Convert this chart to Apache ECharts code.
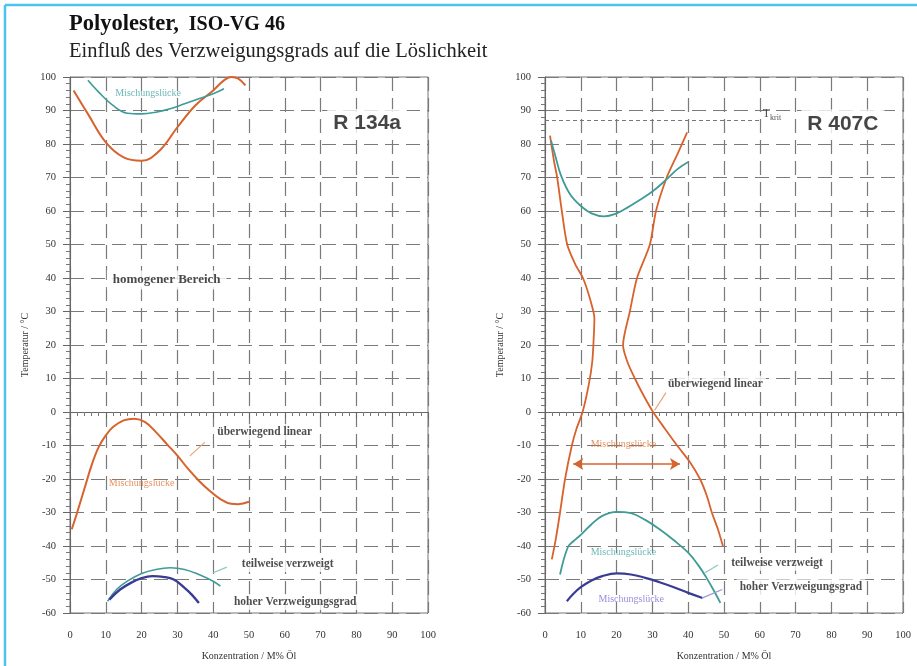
<!DOCTYPE html>
<html><head><meta charset="utf-8">
<script src="https://cdn.jsdelivr.net/npm/echarts@6/dist/echarts.min.js"></script>
<style>html,body{margin:0;padding:0;background:#fff}#c{width:917px;height:666px}</style>
</head><body><div id="c"></div>
<script>
// ---------- data (concentration % oil, temperature °C) ----------
// R 134a
const r134aLinUpper = [[1,96],[5,89],[10,80.5],[15,76],[20,75],[25,78],[30,85],[35,91.5],[40,96],[43,99],[45,100],[47,99.5],[49,97.5]];
const r134aTeilUpper = [[5,99],[8,95.5],[12,91.5],[16,89.2],[20,89],[24,89.5],[28,90.5],[32,92],[36,93.5],[40,95],[43,96.5]];
const r134aLinLower = [[0.5,-35],[2,-30],[4,-23],[6,-16],[8,-10.5],[10,-7],[12,-4.5],[15,-2.5],[18,-2],[21,-3],[24,-6],[27,-9.5],[30,-13],[33,-17],[36,-20.5],[39,-23.5],[42,-26],[45,-27.4],[47,-27.5],[50,-26.8]];
const r134aTeilLower = [[10.5,-56.5],[13,-53],[16,-50.5],[20,-48.2],[24,-47],[28,-46.5],[32,-47],[36,-48.5],[40,-50.5],[42,-52]];
const r134aHochLower = [[11,-56],[14,-53],[17,-51],[20,-49.6],[23,-49],[26,-49.2],[29,-50],[32,-52.5],[34,-54.5],[36,-57]];
// R 407C
const r407cLinLeft = [[1.4,82.5],[2.5,75],[3.4,70],[4.7,60],[6.2,50],[8.5,44],[10.6,40],[12.5,34],[13.8,28],[13.6,22],[13.2,15],[12.2,8],[10.5,0],[8.8,-5],[7.5,-10],[5.6,-20],[4.2,-30],[3,-38],[1.9,-44]];
const r407cLinRight = [[39.7,83.5],[37,77],[34,70],[31,60],[29.3,50],[25.7,40],[23.7,30],[21.8,20],[23,15],[25.1,10],[27.5,5],[30.2,0],[33.5,-5],[36.9,-10],[40.5,-15],[43.3,-20],[45.2,-25],[46.6,-30],[48.3,-35],[49.7,-40]];
const r407cTeilUpper = [[1.7,81],[3,76],[4.5,70.5],[7,65],[10,61.5],[13,59.3],[16.5,58.4],[20,59.3],[23,61],[26,63],[30,65.8],[34,69.5],[37,72.5],[40,74.6]];
const r407cTeilLower = [[4.2,-48.5],[6.4,-40.3],[8,-38.5],[10,-36.7],[13,-33.5],[16,-31],[20,-29.8],[24,-30.2],[28,-32.2],[32,-35],[36,-38.3],[40,-42],[43,-46],[45,-49.3],[47,-53],[49,-57]];
const r407cHochLower = [[6.1,-56.5],[8,-54.2],[10,-52.3],[13,-50.3],[16,-49],[20,-48.2],[24,-48.5],[28,-49.5],[32,-50.8],[36,-52.3],[40,-54],[44,-55.5]];
const tKrit = 87;
const gapArrow = [[7.9,-15.5],[37.7,-15.5]];
// pointer segments from labels to curves
const ptrLeftLin = [[33.5,-13.1],[37.7,-9]];
const ptrLeftTeil = [[40,-48],[43.8,-46.3]];
const ptrRightLin = [[30.6,0.5],[33.8,5.8]];
const ptrRightTeil = [[44.7,-48],[48.3,-45.7]];
const ptrRightHoch = [[44,-55.5],[49.5,-53]];
// text annotations: [text, x, y, kind]
const labelsLeft = [
  ['Mischungslücke',21.8,95.2,'mTeal'],
  ['R 134a',83,86.1,'big'],
  ['homogener Bereich',27,39.4,'hom'],
  ['überwiegend linear',54.4,-6,'note'],
  ['Mischungslücke',20,-21.2,'mOrange'],
  ['teilweise verzweigt',60.8,-45.4,'note'],
  ['hoher Verzweigungsgrad',62.9,-56.7,'note']
];
const labelsRight = [
  ['R 407C',83.2,86,'big'],
  ['überwiegend linear',47.6,8.4,'note'],
  ['Mischungslücke',21.9,-9.6,'mOrange'],
  ['Mischungslücke',21.9,-42,'mTeal'],
  ['teilweise verzweigt',64.8,-45,'note'],
  ['hoher Verzweigungsgrad',71.5,-52.3,'note'],
  ['Mischungslücke',24.1,-56,'mBlue']
];
const xName = 'Konzentration / M% Öl';
const yName = 'Temperatur / °C';

// ---------- styles ----------
const ORANGE = '#d8622c', TEAL = '#3e9b98', BLUE = '#3a3c94';
const SERIF = '"Liberation Serif","DejaVu Serif",serif';
const SANS = '"Liberation Sans",Arial,sans-serif';
const labelStyles = {
  mTeal: {fontFamily:SERIF,fontSize:10,color:'#4aa4a4'},
  mOrange: {fontFamily:SERIF,fontSize:10,color:'#e07535'},
  mBlue: {fontFamily:SERIF,fontSize:10,color:'#7a72d2'},
  big: {fontFamily:SANS,fontSize:21,fontWeight:'bold',color:'#161616',backgroundColor:'#fff',padding:[4,6]},
  hom: {fontFamily:SERIF,fontSize:13,fontWeight:'bold',color:'#1a1a1a',backgroundColor:'#fff',padding:[3,6]},
  note: {fontFamily:SERIF,fontSize:11.5,fontWeight:'bold',color:'#222',backgroundColor:'#fff',padding:[2,3]}
};

function curve(data, g, color, w, smooth) {
  return {type:'line', xAxisIndex:g, yAxisIndex:g, data:data, showSymbol:false, symbol:'none',
    smooth: smooth === undefined ? 0.4 : smooth, lineStyle:{color:color, width:w}, silent:true, z:3};
}
function labelSeries(list, g) {
  return list.map(function(l){
    return {type:'scatter', xAxisIndex:g, yAxisIndex:g, data:[[l[1],l[2]]], symbolSize:0, silent:true, z:5,
      itemStyle:{color:'transparent'},
      label:Object.assign({show:true, position:'inside', formatter:l[0]}, labelStyles[l[3]])};
  });
}
function xAx(g){
  return {gridIndex:g, type:'value', min:0, max:100, interval:10, name:xName, nameLocation:'middle', nameGap:38,
    nameTextStyle:{fontFamily:SERIF,fontSize:10,color:'#333'},
    axisLine:{show:true,lineStyle:{color:'#666'}}, axisTick:{show:true,length:7,lineStyle:{color:'#666'}},
    minorTick:{show:true,splitNumber:5,length:4,lineStyle:{color:'#777'}},
    axisLabel:{fontFamily:SERIF,fontSize:10.5,color:'#333',margin:17},
    splitLine:{show:true,lineStyle:{color:'#7a7a7a',type:[14,7],width:1.2}}};
}
function yAx(g){
  return {gridIndex:g, type:'value', min:-60, max:100, interval:10, name:yName, nameLocation:'middle', nameGap:40, nameRotate:90,
    nameTextStyle:{fontFamily:SERIF,fontSize:10,color:'#333'},
    axisLine:{show:true,lineStyle:{color:'#666'}}, axisTick:{show:true,length:7,lineStyle:{color:'#666'}},
    minorTick:{show:true,splitNumber:5,length:4,lineStyle:{color:'#777'}},
    axisLabel:{fontFamily:SERIF,fontSize:10.5,color:'#333',margin:14},
    splitLine:{show:true,lineStyle:{color:'#7a7a7a',type:[14,7],width:1.2}}};
}

const series = [
  curve(r134aLinUpper,0,ORANGE,2),
  curve(r134aTeilUpper,0,TEAL,1.6),
  curve(r134aLinLower,0,ORANGE,2),
  curve(r134aTeilLower,0,TEAL,1.6),
  curve(r134aHochLower,0,BLUE,2.4),
  curve(ptrLeftLin,0,'#e8a57a',1.2,false),
  curve(ptrLeftTeil,0,'#8cc6c4',1.2,false),
  curve(r407cLinLeft,1,ORANGE,1.8,0.25),
  curve(r407cLinRight,1,ORANGE,1.8,0.25),
  curve(r407cTeilUpper,1,TEAL,1.8),
  curve(r407cTeilLower,1,TEAL,1.8),
  curve(r407cHochLower,1,BLUE,2.2),
  curve(ptrRightLin,1,'#e8a57a',1.2,false),
  curve(ptrRightTeil,1,'#8cc6c4',1.2,false),
  curve(ptrRightHoch,1,'#9a96d8',1.2,false),
  {type:'line', xAxisIndex:1, yAxisIndex:1, data:[], silent:true,
    markLine:{silent:true, symbol:['none','none'], label:{show:false},
      lineStyle:{color:'#777',type:[4,3],width:1},
      data:[[{coord:[0,tKrit]},{coord:[60,tKrit]}]]}},
  {type:'line', xAxisIndex:1, yAxisIndex:1, data:[], silent:true,
    markLine:{silent:true, symbol:['arrow','arrow'], symbolSize:[9,10], label:{show:false},
      lineStyle:{color:ORANGE,type:'solid',width:1.6},
      data:[[{coord:gapArrow[0]},{coord:gapArrow[1]}]]}},
  {type:'scatter', xAxisIndex:1, yAxisIndex:1, data:[[63.4,89]], symbolSize:0, silent:true, itemStyle:{color:'transparent'},
    label:{show:true, position:'inside', formatter:'{t|T}{s|krit}',
      rich:{t:{fontFamily:SERIF,fontSize:12,color:'#222'}, s:{fontFamily:SERIF,fontSize:8,color:'#222',padding:[8,0,0,0]}}}}
].concat(labelSeries(labelsLeft,0), labelSeries(labelsRight,1));

const chart = echarts.init(document.getElementById('c'), null, {renderer:'canvas'});
chart.setOption({
  animation:false,
  backgroundColor:'#fff',
  title:{left:64, top:8, itemGap:5,
    text:'{a|Polyolester,}  {b|ISO-VG 46}',
    textStyle:{rich:{a:{fontFamily:SERIF,fontSize:22.5,fontWeight:'bold',color:'#111'},
                     b:{fontFamily:SERIF,fontSize:20,fontWeight:'bold',color:'#111'}}},
    subtext:'Einfluß des Verzweigungsgrads auf die Löslichkeit',
    subtextStyle:{fontFamily:SERIF,fontSize:20.5,color:'#222'}},
  grid:[
    {left:70, top:77, width:358, height:536, show:true, borderColor:'#777', borderWidth:1, backgroundColor:'transparent'},
    {left:545, top:77, width:358, height:536, show:true, borderColor:'#777', borderWidth:1, backgroundColor:'transparent'}
  ],
  xAxis:[xAx(0), xAx(1)],
  yAxis:[yAx(0), yAx(1)],
  graphic:[
    {type:'line', shape:{x1:5,y1:5,x2:917,y2:5}, style:{stroke:'#4cc2ee',lineWidth:2.5}, silent:true},
    {type:'line', shape:{x1:5,y1:5,x2:5,y2:666}, style:{stroke:'#4cc2ee',lineWidth:2.5}, silent:true}
  ],
  series:series
});
</script></body></html>
